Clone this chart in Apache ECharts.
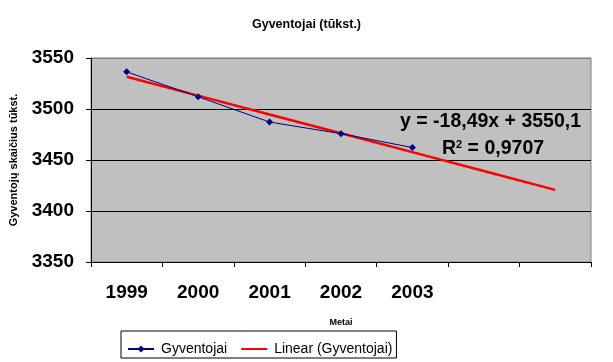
<!DOCTYPE html>
<html>
<head>
<meta charset="utf-8">
<script src="https://cdn.jsdelivr.net/npm/echarts@6/dist/echarts.min.js"></script>
<style>html,body{margin:0;padding:0;background:#fff;}#c{width:613px;height:362px;}</style>
</head>
<body>
<div id="c"></div>
<script>
var categories = ['1999', '2000', '2001', '2002', '2003', '', ''];
var population = [3536.4, 3512.0, 3487.2, 3475.8, 3462.2];
var trendLine = [3531.6, 3513.1, 3494.6, 3476.2, 3457.7, 3439.2, 3420.7];
var yTicks = [3350, 3400, 3450, 3500, 3550];
var titleText = 'Gyventojai (tūkst.)';
var xName = 'Metai';
var yName = 'Gyventojų skaičius tūkst.';
var eqText = 'y = -18,49x + 3550,1';
var r2Value = '0,9707';

var font = '"Liberation Sans", Arial, sans-serif';
var chart = echarts.init(document.getElementById('c'), null, {renderer: 'canvas'});
chart.setOption({
  animation: false,
  backgroundColor: '#ffffff',
  title: {
    text: titleText, left: 'center', top: 13,
    textStyle: {fontFamily: font, fontSize: 12.5, fontWeight: 'bold', color: '#000'}
  },
  grid: {
    left: 91, top: 58, right: 22, bottom: 100,
    show: true, backgroundColor: '#c0c0c0', borderColor: '#808080', borderWidth: 1
  },
  legend: {
    left: 121, top: 331,
    padding: [11, 4, 2, 6],
    itemGap: 13, itemWidth: 26, itemHeight: 9,
    borderColor: '#000', borderWidth: 1, backgroundColor: '#fff',
    textStyle: {fontFamily: font, fontSize: 14, color: '#000', padding: [0, 0, 0, 2]},
    data: [
      {name: 'Gyventojai'},
      {name: 'Linear (Gyventojai)', itemStyle: {opacity: 0}}
    ]
  },
  xAxis: {
    type: 'category', data: categories, boundaryGap: true,
    name: xName, nameLocation: 'middle', nameGap: 56,
    nameTextStyle: {fontFamily: font, fontSize: 9, fontWeight: 'bold', color: '#000'},
    axisLine: {lineStyle: {color: '#000', width: 1}},
    axisTick: {show: true, length: 5, alignWithLabel: false, lineStyle: {color: '#000'}},
    axisLabel: {fontFamily: font, fontSize: 19, fontWeight: 'bold', color: '#000', margin: 21},
    splitLine: {show: false}
  },
  yAxis: {
    type: 'value', min: yTicks[0], max: yTicks[yTicks.length - 1], interval: 50,
    name: yName, nameLocation: 'middle', nameGap: 72, nameRotate: 90,
    nameTextStyle: {fontFamily: font, fontSize: 11, fontWeight: 'bold', color: '#000'},
    axisLine: {show: true, lineStyle: {color: '#000', width: 1}},
    axisTick: {show: true, length: 5, lineStyle: {color: '#000'}},
    axisLabel: {
      fontFamily: font, fontSize: 19, fontWeight: 'bold', color: '#000', margin: 17,
      formatter: function (v) { return String(v); }
    },
    splitLine: {show: true, lineStyle: {color: ['#000', '#000', '#000', '#000', '#808080'], width: 1}}
  },
  graphic: [
    {
      type: 'text', left: 400, top: 112, z: 100,
      style: {text: eqText, font: 'bold 19.5px ' + font, fill: '#000'}
    },
    {
      type: 'text', left: 442, top: 139, z: 100,
      style: {
        text: '{b|R}{s|2}{b| = ' + r2Value + '}',
        rich: {
          b: {font: 'bold 19.5px ' + font, fill: '#000', verticalAlign: 'bottom'},
          s: {font: 'bold 11px ' + font, fill: '#000', verticalAlign: 'top', padding: [0, 0, 8, 0]}
        }
      }
    }
  ],
  series: [
    {
      name: 'Linear (Gyventojai)', type: 'line', data: trendLine,
      symbol: 'none', lineStyle: {color: '#ff0000', width: 2.5}, itemStyle: {color: '#ff0000'}, z: 3
    },
    {
      name: 'Gyventojai', type: 'line', data: population,
      symbol: 'diamond', symbolSize: 7,
      lineStyle: {color: '#000080', width: 1}, itemStyle: {color: '#000080'}, z: 4
    }
  ]
});
</script>
</body>
</html>
